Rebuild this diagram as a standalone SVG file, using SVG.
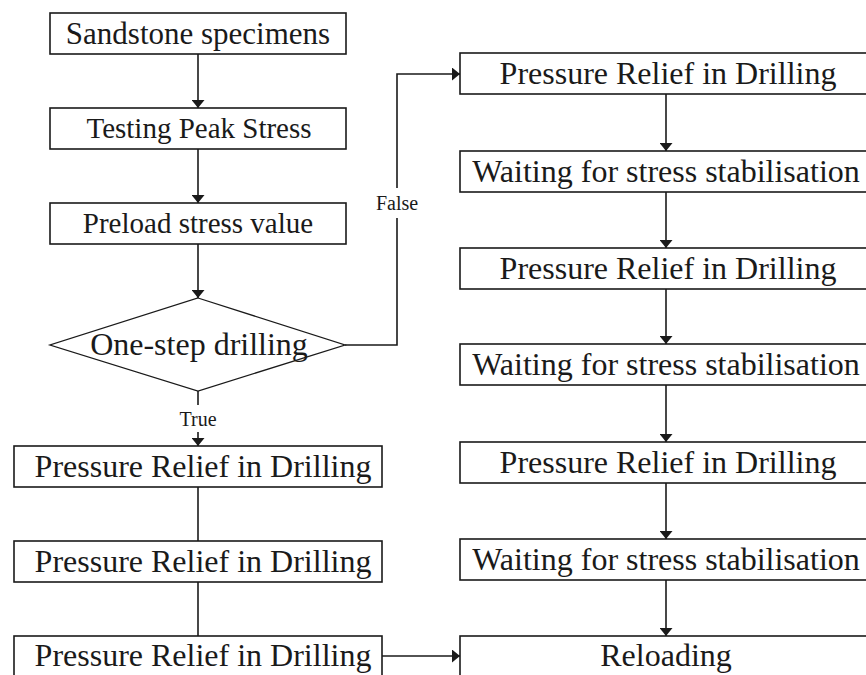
<svg xmlns="http://www.w3.org/2000/svg" width="866" height="675" viewBox="0 0 866 675">
<style>
.box{fill:#fff;stroke:#1a1a1a;stroke-width:1.6}
.dia{fill:#fff;stroke:#1a1a1a;stroke-width:1.3}
.t{font-family:"Liberation Serif","Times New Roman",serif;font-size:32px;fill:#1a1a1a;text-anchor:middle}
.ts{font-size:29px}
.lbl{font-family:"Liberation Serif","Times New Roman",serif;font-size:20px;fill:#1a1a1a;text-anchor:middle}
.c{fill:none;stroke:#1a1a1a;stroke-width:1.6}
</style>
<defs>
<marker id="ah" viewBox="0 0 10 10" refX="10" refY="5" markerWidth="8" markerHeight="13" orient="auto" markerUnits="userSpaceOnUse" preserveAspectRatio="none">
<path d="M0,0 L10,5 L0,10 z" fill="#1a1a1a"/>
</marker>
</defs>
<rect width="866" height="675" fill="#fff"/>
<g id="connectors">
<line class="c" x1="198" y1="54" x2="198" y2="108" marker-end="url(#ah)"/>
<line class="c" x1="198" y1="149" x2="198" y2="203" marker-end="url(#ah)"/>
<line class="c" x1="198" y1="244" x2="198" y2="298" marker-end="url(#ah)"/>
<line class="c" x1="198" y1="391" x2="198" y2="405"/>
<line class="c" x1="198" y1="432" x2="198" y2="446" marker-end="url(#ah)"/>
<line class="c" x1="198" y1="487" x2="198" y2="541"/>
<line class="c" x1="198" y1="582" x2="198" y2="636"/>
<line class="c" x1="382" y1="656" x2="460" y2="656" marker-end="url(#ah)"/>
<path class="c" d="M345,345 H397 V218"/>
<path class="c" d="M397,188 V74 H460" marker-end="url(#ah)"/>
<line class="c" x1="666" y1="94" x2="666" y2="151" marker-end="url(#ah)"/>
<line class="c" x1="666" y1="192" x2="666" y2="248" marker-end="url(#ah)"/>
<line class="c" x1="666" y1="289" x2="666" y2="344" marker-end="url(#ah)"/>
<line class="c" x1="666" y1="385" x2="666" y2="442" marker-end="url(#ah)"/>
<line class="c" x1="666" y1="483" x2="666" y2="539" marker-end="url(#ah)"/>
<line class="c" x1="666" y1="580" x2="666" y2="636" marker-end="url(#ah)"/>
<text class="lbl" x="397" y="210">False</text>
<text class="lbl" x="198" y="426">True</text>
</g>
<g id="n_sandstone"><rect class="box" x="50" y="13" width="296" height="41"/><text class="t" x="198" y="44" style="font-size:31px">Sandstone specimens</text></g>
<g id="n_testing"><rect class="box" x="50" y="108" width="296" height="41"/><text class="t ts" x="199" y="138">Testing Peak Stress</text></g>
<g id="n_preload"><rect class="box" x="50" y="203" width="296" height="41"/><text class="t ts" x="198" y="233">Preload stress value</text></g>
<g id="n_decision"><polygon class="dia" points="198,298 345,345 198,391 50,345"/><text class="t" x="199" y="355">One-step drilling</text></g>
<g id="n_left1"><rect class="box" x="14" y="446" width="368" height="41"/><text class="t" x="203" y="477">Pressure Relief in Drilling</text></g>
<g id="n_left2"><rect class="box" x="14" y="541" width="368" height="41"/><text class="t" x="203" y="572">Pressure Relief in Drilling</text></g>
<g id="n_left3"><rect class="box" x="14" y="636" width="368" height="41"/><text class="t" x="203" y="666">Pressure Relief in Drilling</text></g>
<g id="n_right1"><rect class="box" x="460" y="53" width="412" height="41"/><text class="t" x="668" y="84">Pressure Relief in Drilling</text></g>
<g id="n_right2"><rect class="box" x="460" y="151" width="412" height="41"/><text class="t" x="666" y="182">Waiting for stress stabilisation</text></g>
<g id="n_right3"><rect class="box" x="460" y="248" width="412" height="41"/><text class="t" x="668" y="279">Pressure Relief in Drilling</text></g>
<g id="n_right4"><rect class="box" x="460" y="344" width="412" height="41"/><text class="t" x="666" y="375">Waiting for stress stabilisation</text></g>
<g id="n_right5"><rect class="box" x="460" y="442" width="412" height="41"/><text class="t" x="668" y="473">Pressure Relief in Drilling</text></g>
<g id="n_right6"><rect class="box" x="460" y="539" width="412" height="41"/><text class="t" x="666" y="570">Waiting for stress stabilisation</text></g>
<g id="n_reload"><rect class="box" x="460" y="636" width="412" height="41"/><text class="t" x="666" y="666">Reloading</text></g>
</svg>
